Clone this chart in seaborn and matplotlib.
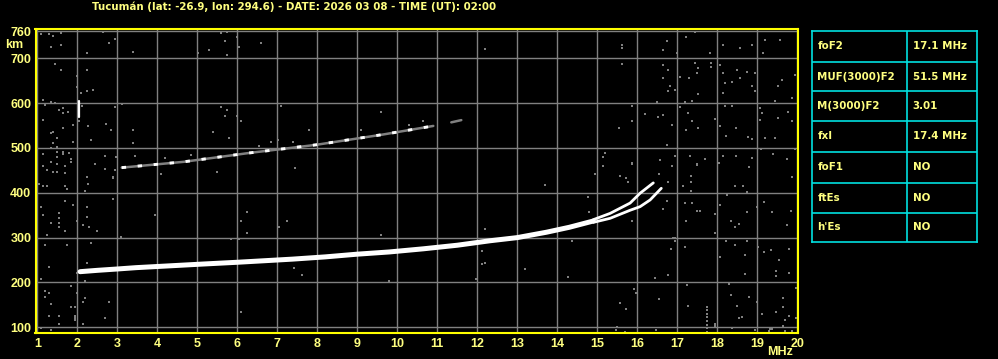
import matplotlib
matplotlib.use("Agg")
import matplotlib.pyplot as plt
import seaborn as sns
import pandas as pd

# ---------------- data ----------------
title = "Tucumán (lat: -26.9, lon: 294.6) - DATE: 2026 03 08 - TIME (UT): 02:00"

x_ticks = list(range(1, 21))
y_ticks = [100, 200, 300, 400, 500, 600, 700, 760]

f2_freq = [2.07, 2.5, 3.0, 3.47, 4.3, 5.13, 6.0, 6.79, 7.38, 8.2, 8.99, 9.8,
           10.65, 11.5, 12.32, 13.0, 13.73, 14.3, 14.9]
f2_height = [224, 227, 230, 233, 237, 241, 245, 249, 252, 257, 263, 268,
             275, 283, 293, 300, 312, 323, 337]
o_branch_freq = [14.9, 15.32, 15.82, 16.07, 16.4]
o_branch_height = [340, 354, 377, 399, 422]
x_branch_freq = [14.9, 15.32, 15.82, 16.07, 16.32, 16.6]
x_branch_height = [334, 343, 361, 369, 384, 410]
hop2_freq = [3.11, 4.66, 6.32, 7.98, 9.65, 10.9]
hop2_height = [456, 469, 489, 507, 530, 549]
hop2b_freq = [11.35, 11.6]
hop2b_height = [557, 562]
spike_freq = [2.05, 2.05]
spike_height = [570, 604]

noise_points = [
    (1.085,754),(1.29,753),(1.385,750),(1.585,756),(2.635,759),(2.785,735),(2.94,743),(1.335,726),
    (1.585,730),(2.235,712),(3.39,714),(5.02,711),(5.29,718),(5.585,757),(5.74,759),(5.69,739),
    (5.985,748),(6.035,726),(6.585,735),(12.19,721),(5.735,707),
    (1.44,687),(1.585,674),(1.985,661),(2.25,674),(1.985,635),(2.385,629),(2.085,622),(2.25,626),
    (1.135,607),(1.335,603),(1.19,596),(1.44,600),(1.55,585),(1.65,589),(1.775,581),(1.635,577),
    (2.11,594),(1.135,562),(1.885,551),(2.05,559),(1.635,544),(2.275,549),(1.385,536),(1.335,533),
    (1.485,522),(1.885,514),(2.335,518),(1.385,510),(1.485,501),(1.335,499),(1.135,487),(1.635,492),
    (1.835,475),
    (1.485,492),(1.635,487),(1.785,489),(1.485,479),(1.34,469),(1.135,460),(1.485,464),(1.69,460),
    (1.84,469),(1.24,451),(1.385,447),(1.485,447),(1.69,445),(1.035,419),(1.135,415),(1.24,414),
    (1.69,414),(1.74,409),(2.24,436),(2.26,419),(2.19,405),(2.45,464),(2.69,482),(2.9,435),
    (2.97,479),(2.69,452),(1.69,382),(1.09,369),(1.885,373),(1.135,350),(1.535,354),(1.535,344),
    (1.535,333),(1.34,333),(1.535,324),(1.69,315),(1.985,338),(2.135,328),(2.285,324),(2.485,315),
    (2.24,369),(2.24,347),(2.885,386),(3.94,350),(1.24,306),(3.09,301),(2.34,289),(1.19,284),
    (1.74,284),(1.285,235),(2.24,243),(1.09,207),(1.985,220),(2.2,204),(1.19,181),(1.285,176),
    (1.84,191),(1.19,168),(2.19,165),(1.985,177),
    (1.335,152),(1.835,145),(1.94,145),(2.15,157),(2.79,157),(1.3,126),(1.54,126),(1.935,126),
    (1.935,121),(1.935,116),(2.69,121),(1.54,107),(2.135,107),(1.085,98),(1.335,94),(6.085,134),
    (2.94,591),(3.13,598),(2.73,554),(2.84,540),(3.385,540),(3.385,510),(5.585,591),(5.735,585),
    (5.69,571),(5.985,571),(6.085,559),(5.385,536),(5.79,523),(7.09,594),(7.79,540),(6.835,513),
    (7.025,518),(7.385,513),(9.585,581),(9.085,539),(10.3,551),(10.635,559),(3.44,482),(4.19,477),
    (4.835,484),(5.485,447),(4.085,442),(2.94,451),(2.9,434),(7.44,455),(6.55,504),
    (6.235,356),(6.09,338),(6.235,310),(7.035,324),(7.235,338),(5.84,296),(6.035,296),(7.43,232),
    (9.585,306),(12.19,319),(12.13,271),(12.19,244),(12.13,242),(13.19,230),(7.63,217),(9.8,203),
    (11.98,208),(13.69,417),(15.135,460),(15.88,464),(14.78,391),(14.79,356),(14.38,293),(14.28,213),
    (16.44,209),(16.9,298),(17.23,337),(17.49,464),(16.88,460),(16.58,473),(15.78,423),(14.94,442),
    (15.63,730),(15.63,722),(15.63,687),(16.74,739),(16.65,719),(16.99,711),(17.44,759),(17.82,711),
    (17.84,681),(17.84,690),(17.23,748),(18.15,730),(18.57,722),(18.86,730),(19.19,741),(19.57,741),
    (19.15,711),(16.65,685),(16.78,674),(16.65,655),(17.07,659),(17.3,655),(17.44,689),(17.53,678),
    (17.49,667),(18.08,685),(18.15,667),(18.49,674),(18.57,655),(18.74,670),(18.94,668),(19.61,652),
    (19.94,663),(16.82,637),(16.94,629),(16.78,626),(17.53,620),(18.19,644),(18.36,648),(18.15,622),
    (18.86,637),(18.94,626),(19.53,637),(19.86,611),(19.44,605),(17.19,603),(17.38,605),(16.49,603),
    (17.08,592),(15.88,594),(16.19,576),(16.65,574),(16.53,568),(16.88,551),(17.28,577),(17.38,559),
    (17.23,540),(17.53,545),(17.94,564),(18.19,594),(18.38,594),(18.08,549),(18.47,544),(18.23,527),
    (18.77,525),(18.88,520),(19.08,589),(19.13,577),(19.07,562),(19.53,566),(19.77,581),(19.88,559),
    (19.19,523),(19.44,523),(15.54,545),(15.88,559),(16.74,507),(16.94,482),(17.32,482),(17.69,475),
    (17.49,462),(18.15,482),(18.47,482),(18.86,477),(19.09,497),(19.4,486),(19.74,475),(19.94,497),
    (16.58,472),(15.15,480),(15.19,488),(15.88,466),(18.05,467),(18.8,458),
    (15.58,438),(15.73,432),(16.55,442),(16.78,425),(17.34,438),(17.34,423),(17.14,414),(17.34,405),
    (18.44,414),(18.65,415),(18.74,402),(19.88,435),(16.74,382),(16.64,364),(17.19,378),(17.36,378),
    (17.5,360),(17.58,360),(17.94,352),(18.08,373),(18.25,395),(18.34,336),(18.44,324),(18.55,330),
    (18.74,358),(18.99,369),(19.17,380),(19.38,356),(19.74,328),(19.84,360),(15.88,338),(17.94,311),
    (16.94,298),(16.94,292),(16.84,275),(17.19,280),(18.08,257),(18.69,261),(18.23,293),(18.44,284),
    (18.74,293),(19.03,280),(19.16,269),(19.34,272),(19.54,249),(19.48,226),(19.48,214),(19.79,274),
    (19.79,222),(18.69,219),(16.44,211),(16.78,217),(17.24,194),(18.29,197),(15.93,185),(15.97,177),
    (16.54,164),(15.58,154),(15.73,141),(17.28,148),(17.74,146),(17.74,138),(17.74,130),(17.74,122),
    (17.74,114),(17.74,106),(17.74,98),(17.74,90),(18.49,148),(18.34,172),(18.8,168),(18.99,157),
    (19.11,130),(19.64,165),(19.64,145),(19.47,135),(19.8,125),(18.54,120),(18.63,124),(17.94,107),
    (17.94,103),(18.36,98),(18.94,94),(19.32,96),(19.3,92),(19.69,92),(15.5,101),(15.48,94),
    (15.69,90),(16.48,94),(19.98,187),(19.64,103),(19.69,116),(19.86,92),(19.97,120),(19.38,96),
]
noise_freq = [p[0] for p in noise_points]
noise_height = [p[1] for p in noise_points]

param_names = ["foF2", "MUF(3000)F2", "M(3000)F2", "fxI", "foF1", "ftEs", "h'Es"]
param_values = ["17.1 MHz", "51.5 MHz", "3.01", "17.4 MHz", "NO", "NO", "NO"]

# ---------------- style ----------------
sns.set_theme(style="dark")
plt.rcParams["font.family"] = ["Liberation Sans", "DejaVu Sans"]
plt.rcParams["font.weight"] = "bold"

W, H = 998, 359
TXT = "#ffff80"
SPINE = "#ffff00"
GRID = "#808080"
CYAN = "#00e0e0"
WIDE = ["DejaVu Sans"]

fig = plt.figure(figsize=(W / 100, H / 100), dpi=100, facecolor="black")

def fx(px):
    return px / W

def fy(py):
    return 1 - py / H

ax = fig.add_axes([fx(35.5), fy(333.3), fx(798.3) - fx(35.5), fy(29.3) - fy(333.3)])
ax.set_facecolor("black")

noise_df = pd.DataFrame({"freq": noise_freq, "height": noise_height})
sns.scatterplot(data=noise_df, x="freq", y="height", ax=ax, color="#808080", marker="s",
                s=4, linewidth=0, zorder=2)

main_df = pd.DataFrame({"freq": f2_freq, "height": f2_height})
sns.lineplot(data=main_df, x="freq", y="height", ax=ax, color="white", lw=3.6,
             estimator=None, sort=False, zorder=4)
sns.lineplot(x=o_branch_freq, y=o_branch_height, ax=ax, color="white", lw=2.0,
             estimator=None, sort=False, zorder=4)
sns.lineplot(x=x_branch_freq, y=x_branch_height, ax=ax, color="white", lw=2.0,
             estimator=None, sort=False, zorder=4)
sns.lineplot(x=hop2_freq, y=hop2_height, ax=ax, color=GRID, lw=1.8,
             estimator=None, sort=False, zorder=3)
sns.lineplot(x=hop2_freq, y=hop2_height, ax=ax, color="white", lw=2.1,
             estimator=None, sort=False, zorder=4)
ax.lines[-1].set_dashes([1.5, 4])
sns.lineplot(x=hop2b_freq, y=hop2b_height, ax=ax, color=GRID, lw=1.8,
             estimator=None, sort=False, zorder=3)
sns.lineplot(x=spike_freq, y=spike_height, ax=ax, color="white", lw=1.6,
             estimator=None, sort=False, zorder=4)

ax.set_xlim(0.955, 20.025)
ax.set_ylim(86.6, 764.5)
ax.set_xticks(x_ticks)
ax.set_xticklabels([str(v) for v in x_ticks])
ax.set_yticks(y_ticks)
ax.set_yticklabels([str(v) for v in y_ticks])
ax.tick_params(axis="both", length=0, colors=TXT, labelsize=9)
ax.tick_params(axis="x", pad=3.5)
ax.tick_params(axis="y", pad=3.0)
for lab in ax.get_xticklabels() + ax.get_yticklabels():
    lab.set_fontweight("bold")
ax.grid(True, color=GRID, lw=1.0)
ax.set_axisbelow(True)
ax.set_xlabel("")
ax.set_ylabel("")
for sp in ax.spines.values():
    sp.set_visible(True)
    sp.set_color(SPINE)
    sp.set_linewidth(1.5)

fig.text(fx(294), fy(7), title, color=TXT, fontsize=7.4, fontweight="bold",
         family=WIDE, ha="center", va="center")
fig.text(fx(13.7), fy(45), "km", color=TXT, fontsize=9, fontweight="bold",
         ha="center", va="center")
fig.text(fx(780.5), fy(352), "MHz", color=TXT, fontsize=9, fontweight="bold",
         ha="center", va="center")

# ---------------- table ----------------
tx0, tx1, tcol = 812.3, 977.3, 907.3
row_edges = [30.7, 61.7, 91.3, 121.3, 151.7, 182.7, 212.7, 242.3]
tax = fig.add_axes([fx(tx0), fy(row_edges[-1]), fx(tx1) - fx(tx0), fy(row_edges[0]) - fy(row_edges[-1])])
tax.set_xlim(tx0, tx1)
tax.set_ylim(row_edges[-1], row_edges[0])
tax.set_facecolor("black")
tax.set_xticks([])
tax.set_yticks([])
for sp in tax.spines.values():
    sp.set_color(CYAN)
    sp.set_linewidth(1.2)
for yb in row_edges[1:-1]:
    tax.axhline(yb, color=CYAN, lw=1.2)
tax.axvline(tcol, color=CYAN, lw=1.2)
for i, (name, val) in enumerate(zip(param_names, param_values)):
    yc = (row_edges[i] + row_edges[i + 1]) / 2
    tax.text(817.3, yc, name, color=TXT, fontsize=7.4, fontweight="bold", family=WIDE,
             ha="left", va="center")
    tax.text(912.7, yc, val, color=TXT, fontsize=7.4, fontweight="bold", family=WIDE,
             ha="left", va="center")

fig.savefig("out.png", dpi=100, facecolor="black")
